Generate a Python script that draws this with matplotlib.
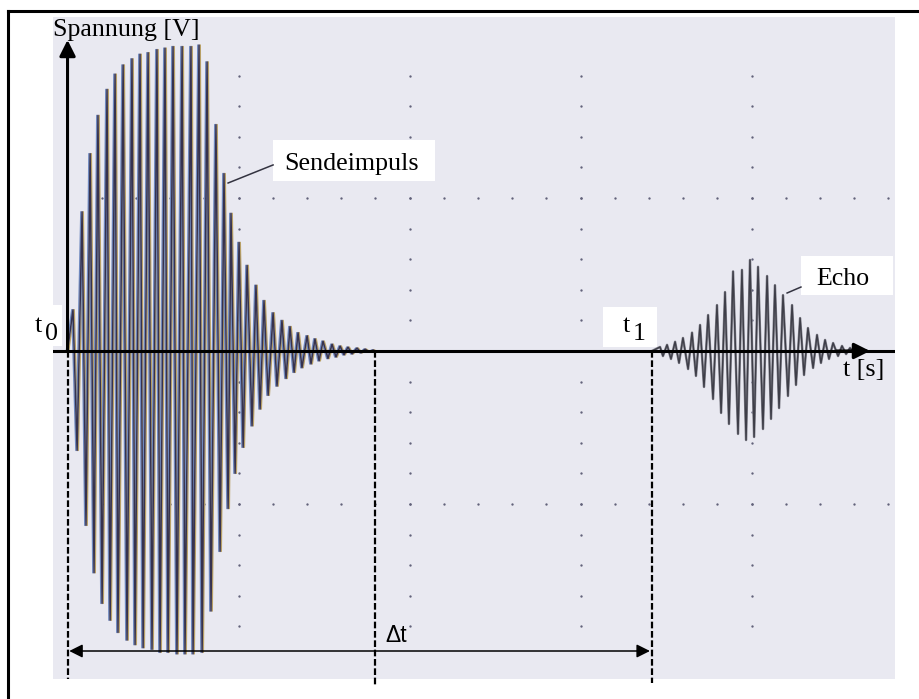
import numpy as np
import matplotlib
matplotlib.use("Agg")
import matplotlib.pyplot as plt
from matplotlib.patches import Rectangle
from matplotlib.transforms import offset_copy

# time axis in scope divisions, voltage in V (1 V per division)
t0 = 0.0
t_send_end = 1.798
t1 = 3.418
t_echo_end = 4.646

# Sendeimpuls: positive and negative peaks of each oscillation
t_send_pos = [0.032, 0.085, 0.132, 0.178, 0.231, 0.278, 0.325, 0.377, 0.424, 0.471,
              0.523, 0.570, 0.617, 0.670, 0.722, 0.769, 0.816, 0.868, 0.915, 0.956,
              1.003, 1.050, 1.102, 1.149, 1.202, 1.254, 1.301, 1.348, 1.401, 1.447,
              1.494, 1.547, 1.594, 1.640, 1.693, 1.740, 1.787]
u_send_pos = [0.27, 0.91, 1.29, 1.54, 1.71, 1.81, 1.87, 1.91, 1.94, 1.95,
              1.97, 1.98, 1.99, 1.99, 1.99, 2.00, 1.89, 1.48, 1.16, 0.90,
              0.71, 0.56, 0.43, 0.33, 0.25, 0.20, 0.16, 0.12, 0.10, 0.08,
              0.065, 0.045, 0.033, 0.026, 0.02, 0.013, 0.007]
t_send_neg = [0.056, 0.108, 0.155, 0.202, 0.249, 0.295, 0.348, 0.395, 0.442, 0.494,
              0.541, 0.588, 0.640, 0.687, 0.734, 0.787, 0.839, 0.892, 0.939, 0.980,
              1.027, 1.079, 1.126, 1.173, 1.225, 1.278, 1.325, 1.371, 1.424, 1.471,
              1.523, 1.570, 1.617, 1.664, 1.716, 1.763]
u_send_neg = [0.65, 1.14, 1.45, 1.65, 1.76, 1.84, 1.89, 1.92, 1.94, 1.95,
              1.97, 1.97, 1.98, 1.98, 1.98, 1.97, 1.70, 1.31, 1.03, 0.80,
              0.63, 0.49, 0.38, 0.29, 0.23, 0.18, 0.14, 0.11, 0.085, 0.065,
              0.05, 0.04, 0.026, 0.02, 0.013, 0.007]

# Echo
t_echo_pos = [3.465, 3.506, 3.553, 3.599, 3.652, 3.699, 3.746, 3.798, 3.845, 3.892,
              3.944, 3.991, 4.038, 4.091, 4.137, 4.184, 4.237, 4.284, 4.330, 4.383,
              4.430, 4.477, 4.529, 4.576]
u_echo_pos = [0.026, 0.04, 0.06, 0.085, 0.12, 0.17, 0.235, 0.30, 0.385, 0.52,
              0.53, 0.595, 0.55, 0.49, 0.43, 0.365, 0.30, 0.215, 0.15, 0.105,
              0.072, 0.052, 0.033, 0.02]
t_echo_neg = [3.482, 3.529, 3.576, 3.629, 3.675, 3.722, 3.775, 3.822, 3.868, 3.921,
              3.968, 4.015, 4.067, 4.114, 4.161, 4.213, 4.260, 4.307, 4.360, 4.406,
              4.453, 4.506, 4.553, 4.599]
u_echo_neg = [0.033, 0.052, 0.078, 0.118, 0.163, 0.235, 0.314, 0.405, 0.477, 0.542,
              0.582, 0.562, 0.51, 0.444, 0.373, 0.294, 0.222, 0.157, 0.111, 0.078,
              0.052, 0.033, 0.02, 0.013]


def pulse(t_start, t_end, tp, up, tn, un):
    # join the peaks into one trace, alternating up and down
    t = np.concatenate([[t_start], tp, tn, [t_end]])
    u = np.concatenate([[0.0], up, -np.asarray(un), [0.0]])
    order = np.argsort(t)
    return t[order], u[order]


serif = "Liberation Serif"
fs = 18.7

fig = plt.figure(figsize=(9.2, 6.99), dpi=100)
ax = fig.add_axes([53 / 920, 20 / 699, 842 / 920, 662 / 699])
ax.set_facecolor("#e9e9f1")
ax.set_xlim(-0.085, 4.839)
ax.set_ylim(-2.144, 2.183)
ax.set_xticks([])
ax.set_yticks([])
for s in ax.spines.values():
    s.set_visible(False)

# dotted scope graticule
minor = np.round(np.arange(-1.8, 1.81, 0.2), 2)
minor = minor[minor != 0]
for xg in [1, 2, 3, 4]:
    ax.plot(np.full(len(minor), xg), minor, ls="none", marker="o", ms=1.7,
            mew=0, color="#62627a", zorder=1)
xs = np.round(np.arange(0.2, 4.81, 0.2), 2)
for yg in [-1, 1]:
    ax.plot(xs, np.full(len(xs), yg), ls="none", marker="o", ms=1.7,
            mew=0, color="#62627a", zorder=1)

# transmitted pulse, drawn with colour fringes like a scanned trace
ts, us = pulse(t0, t_send_end, t_send_pos, u_send_pos, t_send_neg, u_send_neg)
ax.plot(ts, us, color="#b8a066", lw=1.0,
        transform=offset_copy(ax.transData, fig=fig, x=0.9, units="points"), zorder=2)
ax.plot(ts, us, color="#6f89bf", lw=1.0,
        transform=offset_copy(ax.transData, fig=fig, x=-0.9, units="points"), zorder=2)
ax.plot(ts, us, color="#36324e", lw=1.1, zorder=3)

# echo
te, ue = pulse(t1, t_echo_end, t_echo_pos, u_echo_pos, t_echo_neg, u_echo_neg)
ax.plot(te, ue, color="#85858f", lw=1.8, zorder=2)
ax.plot(te, ue, color="#3e3e48", lw=1.0, zorder=3)

# axes arrows
ax.axhline(0, color="k", lw=2.2, zorder=4)
ax.annotate("", xy=(4.693, 0), xytext=(4.5, 0),
            arrowprops=dict(arrowstyle="-|>", color="k", lw=2.2,
                            mutation_scale=24, shrinkA=0, shrinkB=0), zorder=5)
ax.annotate("", xy=(t0, 2.033), xytext=(t0, 0),
            arrowprops=dict(arrowstyle="-|>", color="k", lw=2.2,
                            mutation_scale=24, shrinkA=0, shrinkB=0),
            annotation_clip=False, zorder=5)

# dashed markers for t0, end of pulse and t1
for xv, yb in [(t0, -2.144), (t_send_end, -2.196), (t1, -2.17)]:
    ax.plot([xv, xv], [0, yb], color="k", lw=1.6, ls=(0, (3, 1.2)),
            clip_on=False, zorder=4)

# delta t
ax.annotate("", xy=(t1 - 0.012, -1.961), xytext=(t0 + 0.01, -1.961),
            arrowprops=dict(arrowstyle="<|-|>", color="k", lw=1.1,
                            mutation_scale=20, shrinkA=0, shrinkB=0), zorder=5)
ax.text(1.857, -1.902, "Δt", family="Liberation Sans", fontsize=16.5,
        va="baseline", ha="left", zorder=6)

# labels
ax.text(-0.085, 2.059, "Spannung [V]", family=serif, fontsize=fs,
        va="baseline", ha="left", clip_on=False, zorder=6)
ax.text(4.535, -0.163, "t [s]", family=serif, fontsize=fs,
        va="baseline", ha="left", zorder=6)

ax.add_patch(Rectangle((1.202, 1.111), 0.947, 0.268, facecolor="white",
                       edgecolor="none", zorder=5))
ax.text(1.266, 1.183, "Sendeimpuls", family=serif, fontsize=fs,
        va="baseline", ha="left", zorder=6)
ax.plot([0.939, 1.202], [1.098, 1.216], color="#333340", lw=1.1, zorder=5)

ax.add_patch(Rectangle((4.289, 0.366), 0.538, 0.255, facecolor="white",
                       edgecolor="none", zorder=5))
ax.text(4.377, 0.431, "Echo", family=serif, fontsize=fs,
        va="baseline", ha="left", zorder=6)
ax.plot([4.208, 4.289], [0.379, 0.418], color="#333340", lw=1.1, zorder=5)

ax.add_patch(Rectangle((3.132, 0.026), 0.315, 0.262, facecolor="white",
                       edgecolor="none", zorder=5))
ax.text(3.249, 0.124, "t", family=serif, fontsize=fs, va="baseline", zorder=6)
ax.text(3.307, 0.072, "1", family=serif, fontsize=fs, va="baseline", zorder=6)

ax.add_patch(Rectangle((-0.249, 0.033), 0.217, 0.267, facecolor="white",
                       edgecolor="none", clip_on=False, zorder=5))
ax.text(-0.19, 0.124, "t", family=serif, fontsize=fs, va="baseline",
        clip_on=False, zorder=6)
ax.text(-0.132, 0.072, "0", family=serif, fontsize=fs, va="baseline",
        clip_on=False, zorder=6)

# frame lines along the top and left
fig.add_artist(plt.Line2D([8 / 920, 8 / 920], [0, 1 - 11 / 699], color="k", lw=2.2))
fig.add_artist(plt.Line2D([8 / 920, 1], [1 - 11 / 699, 1 - 11 / 699], color="k", lw=2.2))

fig.savefig("out.png", dpi=100)
